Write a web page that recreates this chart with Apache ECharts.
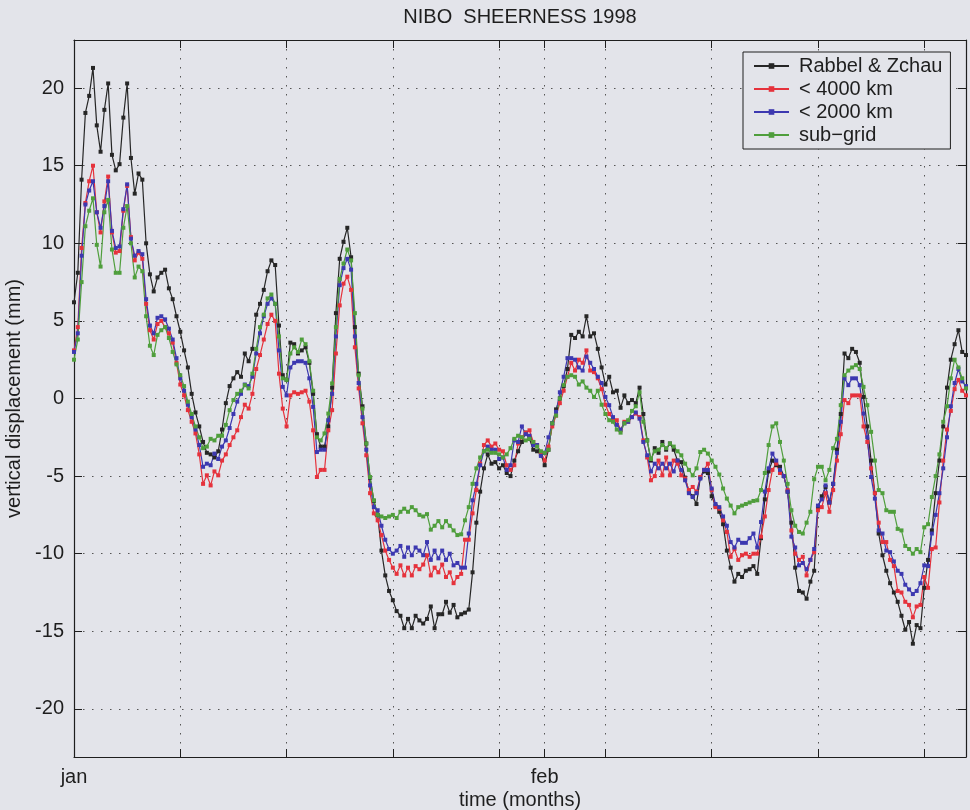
<!DOCTYPE html>
<html><head><meta charset="utf-8">
<script src="https://cdn.jsdelivr.net/npm/echarts@6/dist/echarts.min.js"></script>
<style>html,body{margin:0;padding:0;background:#e3e4ea;}#c{width:970px;height:810px;}</style>
</head><body><div id="c"></div>
<script>
// ---- data (6-hourly samples starting 1 Jan 1998) ----
const titleText = 'NIBO  SHEERNESS 1998';
const seriesNames = ['Rabbel & Zchau', '< 4000 km', '< 2000 km', 'sub\u2212grid'];
const stepDays = 0.25;
const monthLabels = ['jan', 'feb'];
const monthDays = [0, 31];
const yTickStep = 5;

const rabbel = [6.2,8.1,14.1,18.4,19.5,21.3,17.6,15.9,18.6,20.3,15.7,14.7,15.1,18.1,20.3,15.5,13.2,14.5,14.1,10.0,
8.0,6.9,7.8,8.1,8.3,7.1,6.4,5.3,4.3,3.1,2.0,0.3,-0.9,-1.8,-2.8,-3.5,-3.6,-3.8,-3.4,-2.0,
-0.3,0.8,1.3,1.7,1.4,2.9,2.4,3.2,5.4,6.1,7.0,8.2,8.9,8.6,4.7,1.5,1.2,3.6,3.5,2.9,
3.1,3.3,2.3,0.3,-2.3,-3.1,-3.1,-1.8,0.7,5.5,9.0,10.1,11.0,9.1,4.6,1.6,-0.5,-2.9,-5.1,-6.6,
-7.5,-9.8,-11.4,-12.4,-13.0,-13.7,-14.0,-14.8,-14.2,-14.8,-14.0,-14.3,-14.5,-14.2,-13.4,-14.8,-13.9,-13.9,-13.1,-13.8,
-13.3,-14.1,-13.9,-13.8,-13.6,-11.2,-8.0,-6.0,-4.5,-3.6,-4.2,-4.1,-4.5,-4.3,-4.8,-5.0,-4.0,-3.4,-2.8,-2.2,
-2.6,-3.3,-3.4,-3.6,-4.3,-3.3,-1.6,-0.7,0.0,0.8,1.9,4.1,3.9,4.3,4.0,5.3,4.0,4.2,3.2,2.0,
0.9,1.4,0.4,0.5,-0.6,0.2,-0.3,-0.1,-0.3,0.7,-1.0,-2.7,-4.0,-3.2,-3.5,-2.8,-3.3,-2.9,-3.3,-4.0,
-4.1,-5.1,-6.0,-6.3,-6.8,-5.1,-4.7,-4.8,-6.3,-6.9,-7.3,-8.1,-9.8,-10.9,-11.8,-11.3,-11.5,-11.1,-11.0,-10.8,
-11.3,-9.0,-6.5,-4.7,-4.0,-4.3,-4.4,-5.0,-6.0,-8.0,-10.9,-12.4,-12.5,-12.9,-11.8,-11.1,-7.0,-6.3,-5.7,-6.7,
-5.5,-3.3,-1.0,2.9,2.6,3.2,3.0,2.3,0.1,-1.8,-4.0,-6.1,-8.7,-10.1,-11.1,-11.9,-12.5,-13.1,-14.0,-14.9,
-14.4,-15.8,-14.6,-14.8,-12.2,-10.4,-8.5,-6.1,-4.0,-1.8,0.7,2.5,3.5,4.4,3.0,2.8];

const lt4000 = [3.1,4.6,9.7,12.6,14.0,15.0,12.0,10.7,12.7,14.3,10.7,9.4,9.5,12.1,13.7,10.4,8.9,9.4,9.0,6.1,
4.4,3.8,4.8,5.0,4.6,4.2,3.6,2.3,0.9,0.2,-0.75,-1.5,-2.25,-3.6,-5.5,-4.95,-5.6,-4.7,-4.95,-4.0,
-3.6,-3.0,-2.5,-2.05,-1.2,-0.4,-0.65,0.3,1.9,2.8,3.8,4.8,5.4,5.0,1.6,-0.65,-1.8,0.2,0.4,0.3,
0.4,0.5,-0.2,-2.05,-5.06,-4.6,-4.6,-2.05,-0.75,2.9,6.0,7.4,7.85,7.0,3.3,0.65,-1.6,-3.66,-6.1,-7.4,
-7.85,-8.8,-9.8,-10.4,-10.9,-11.3,-10.75,-11.4,-10.9,-11.4,-10.8,-11.0,-10.7,-10.1,-11.4,-10.9,-11.2,-10.7,-11.5,-11.2,
-11.9,-11.5,-11.3,-9.1,-9.1,-7.4,-5.9,-4.2,-3.0,-2.7,-3.1,-2.9,-3.3,-3.4,-4.3,-4.6,-4.3,-2.9,-2.5,-2.2,
-2.05,-2.8,-3.0,-3.45,-4.0,-3.1,-1.8,-1.1,-0.3,0.5,1.4,2.3,1.8,2.5,2.3,3.1,1.8,1.7,1.3,0.6,
-0.4,-1.0,-1.3,-1.4,-2.05,-1.5,-1.5,-1.2,-0.97,-1.2,-2.7,-3.8,-5.27,-5.0,-4.0,-4.95,-3.8,-4.95,-4.0,-4.2,
-4.95,-5.16,-5.9,-5.7,-6.0,-5.06,-4.6,-4.2,-5.9,-7.0,-7.1,-7.85,-8.6,-10.2,-9.7,-10.4,-10.1,-10.0,-10.2,-10.0,
-10.0,-8.9,-7.6,-5.9,-4.6,-4.2,-4.8,-5.0,-5.9,-8.5,-10.0,-10.4,-10.2,-11.4,-10.4,-9.9,-7.2,-7.0,-6.1,-7.3,
-5.9,-4.0,-2.3,-0.1,-0.3,0.2,0.2,0.2,-1.8,-2.8,-4.5,-6.1,-8.0,-9.25,-9.25,-10.4,-10.8,-12.4,-12.5,-13.1,
-13.3,-14.1,-13.4,-13.3,-11.5,-12.2,-9.7,-9.6,-6.7,-4.0,-2.0,-0.8,0.6,1.2,0.5,0.2];

const lt2000 = [3.0,4.2,9.2,12.5,13.4,14.0,12.0,11.0,12.4,14.0,10.8,9.7,9.8,12.2,13.8,10.3,9.2,9.5,9.3,6.4,
4.7,4.2,5.2,5.3,5.1,4.5,3.8,2.6,1.3,0.5,-0.4,-1.2,-2.0,-3.0,-4.4,-4.2,-4.3,-3.55,-3.9,-3.1,
-2.7,-1.9,-1.0,-0.2,0.3,0.9,0.8,1.4,2.9,4.2,5.3,6.1,6.45,6.1,3.1,0.75,0.2,2.0,2.3,2.4,
2.4,2.3,1.3,-0.54,-3.45,-3.3,-3.3,-1.4,0.3,4.0,7.3,8.4,9.0,8.3,4.0,1.0,-1.2,-3.3,-5.6,-7.0,
-7.2,-8.2,-9.1,-9.7,-10.0,-9.8,-9.5,-10.2,-9.6,-10.1,-9.6,-9.8,-10.1,-9.25,-10.4,-9.8,-10.3,-9.8,-10.4,-10.0,
-10.75,-10.6,-10.9,-10.9,-8.7,-6.56,-5.5,-4.3,-3.4,-3.1,-3.3,-3.3,-3.9,-3.8,-4.6,-4.3,-2.7,-2.8,-1.8,-2.3,
-2.4,-3.0,-3.0,-3.7,-3.5,-2.5,-1.6,-0.86,0.4,1.4,2.6,2.6,2.5,2.0,1.8,2.7,2.3,1.9,1.4,1.0,
0.1,-0.43,-1.2,-1.7,-2.0,-1.6,-1.5,-1.2,-0.9,-1.3,-2.8,-3.66,-4.7,-4.2,-4.5,-4.2,-4.5,-4.2,-4.7,-4.0,
-4.6,-5.27,-6.1,-6.35,-6.1,-5.16,-4.6,-4.6,-5.8,-6.8,-7.0,-7.6,-8.2,-9.25,-9.6,-9.1,-9.3,-9.3,-9.0,-8.7,
-9.6,-7.96,-6.0,-4.5,-3.55,-4.0,-4.6,-5.0,-6.0,-8.9,-9.6,-10.75,-10.6,-11.0,-10.4,-9.7,-6.9,-6.5,-5.6,-6.7,
-5.5,-3.5,-1.5,1.3,0.86,1.3,1.3,0.86,-0.97,-2.5,-5.06,-6.45,-8.5,-8.7,-9.8,-9.9,-10.5,-11.1,-11.3,-12.0,
-12.3,-12.6,-12.4,-11.9,-10.75,-10.8,-8.7,-7.5,-6.1,-4.5,-2.5,-0.5,1.0,1.9,1.1,0.8];

const subGrid = [2.5,3.8,7.5,11.1,12.1,12.9,9.9,8.5,12.0,12.8,9.6,8.1,8.1,11.0,12.4,10.0,7.8,8.5,8.2,5.3,
3.4,2.8,4.1,4.4,4.6,3.9,3.0,2.2,1.5,0.8,-0.2,-1.0,-1.8,-2.5,-3.2,-3.1,-2.6,-2.7,-2.4,-2.4,
-1.7,-0.75,-0.1,0.3,0.5,0.86,0.65,1.6,3.2,4.6,5.4,6.45,6.7,6.1,4.0,1.3,1.2,2.9,3.3,3.0,
3.8,3.5,2.4,0.5,-2.5,-2.7,-2.25,-0.97,0.97,4.6,7.7,8.7,9.6,8.9,5.5,1.5,-0.65,-2.9,-5.06,-6.56,
-7.5,-7.6,-7.7,-7.6,-7.5,-7.7,-7.3,-7.1,-7.3,-7.0,-7.2,-7.5,-7.6,-7.45,-8.45,-8.2,-7.9,-8.3,-7.9,-8.2,
-8.5,-8.8,-8.75,-7.85,-7.0,-5.5,-4.5,-3.8,-3.4,-3.3,-3.5,-3.5,-3.6,-3.8,-3.6,-3.2,-2.6,-2.4,-2.5,-2.7,
-2.6,-2.8,-3.1,-3.4,-3.5,-3.3,-1.6,-1.1,0.0,0.86,1.4,1.5,1.4,0.9,1.1,0.7,0.5,0.1,0.5,-0.4,
-1.0,-1.4,-1.5,-2.0,-2.2,-1.6,-1.4,-0.8,-0.5,0.4,-1.5,-2.7,-3.9,-3.4,-3.3,-3.0,-3.2,-2.9,-3.1,-3.4,
-3.66,-4.2,-4.6,-4.95,-4.5,-3.45,-3.3,-3.55,-4.0,-4.4,-4.9,-5.8,-6.45,-6.9,-7.4,-7.0,-6.9,-6.8,-6.7,-6.6,
-6.56,-5.9,-4.8,-3.0,-1.8,-1.6,-2.8,-4.0,-5.5,-7.2,-8.2,-8.6,-8.7,-8.0,-7.3,-5.2,-4.4,-4.4,-5.27,-4.6,
-3.2,-2.6,-0.43,1.5,1.8,2.0,2.15,1.9,0.75,-0.43,-2.15,-4.0,-5.9,-6.1,-7.2,-7.3,-7.3,-8.4,-8.5,-9.5,
-9.7,-10.0,-9.7,-9.9,-8.3,-8.1,-6.35,-5.0,-3.6,-1.5,-0.5,1.3,2.5,2.0,1.3,0.65];

// ---- chart ----
const seriesValues = [rabbel, lt4000, lt2000, subGrid];
const seriesColors = ['#262626', '#e5323c', '#3c38b0', '#4f9e3c'];
const toPairs = arr => arr.map((v, i) => [i * stepDays, v]);
const xMax = (rabbel.length - 1) * stepDays;

const FONT = 'Liberation Sans, Arial, Helvetica, sans-serif';
const INK = '#1e1e1e';
const dotted = { color: '#555', width: 1, type: [1.5, 7.5] };
const tickIn = { show: true, inside: true, length: 8, lineStyle: { color: INK, width: 1 } };
const axLine = { show: true, onZero: false, lineStyle: { color: INK, width: 1.2 } };
const noLine = { show: false, onZero: false };

const chart = echarts.init(document.getElementById('c'), null, { renderer: 'canvas' });
chart.setOption({
  backgroundColor: '#e3e4ea',
  animation: false,
  textStyle: { fontFamily: FONT },
  title: {
    text: titleText, left: 520, top: 7, textAlign: 'center', padding: 0,
    textStyle: { fontSize: 20, fontWeight: 'normal', color: INK, fontFamily: FONT }
  },
  grid: { left: 74, right: 4, top: 40, bottom: 53, containLabel: false, outerBoundsMode: 'none' },
  legend: {
    data: seriesNames, orient: 'vertical', left: 743, top: 52,
    itemWidth: 35, itemHeight: 7, itemGap: 3, padding: [4, 8, 4, 10],
    backgroundColor: '#e3e4ea', borderColor: INK, borderWidth: 1, borderRadius: 0,
    textStyle: { fontSize: 20, color: INK, fontFamily: FONT, lineHeight: 20, padding: [0, 0, 0, 5] },
    selectedMode: false
  },
  xAxis: [
    { type: 'value', min: 0, max: xMax, interval: 7, position: 'bottom',
      axisLine: axLine, axisTick: tickIn, axisLabel: { show: false },
      splitLine: { show: true, lineStyle: dotted },
      name: 'time (months)', nameLocation: 'middle', nameGap: 33,
      nameTextStyle: { fontSize: 20, color: INK, fontFamily: FONT } },
    { type: 'value', min: 0, max: xMax, interval: 7, position: 'top',
      axisLine: axLine, axisTick: tickIn, axisLabel: { show: false }, splitLine: { show: false } },
    { type: 'value', min: 0, max: xMax, interval: monthDays[1], position: 'bottom',
      axisLine: noLine, axisTick: tickIn,
      axisLabel: { show: true, margin: 10, fontSize: 20, color: INK, fontFamily: FONT,
        showMinLabel: true, showMaxLabel: false,
        formatter: v => { const k = monthDays.indexOf(v); return k >= 0 ? monthLabels[k] : ''; } },
      splitLine: { show: true, lineStyle: dotted } },
    { type: 'value', min: 0, max: xMax, interval: monthDays[1], position: 'top',
      axisLine: noLine, axisTick: tickIn, axisLabel: { show: false }, splitLine: { show: false } }
  ],
  yAxis: [
    { type: 'value', min: -23.1, max: 23.1, splitNumber: 9, minInterval: yTickStep, maxInterval: yTickStep,
      position: 'left', axisLine: axLine, axisTick: tickIn,
      axisLabel: { margin: 10, fontSize: 20, color: INK, fontFamily: FONT,
        formatter: v => (Math.abs(v % yTickStep) < 1e-6 ? String(v) : '') },
      splitLine: { show: true, lineStyle: dotted },
      name: 'vertical displacement (mm)', nameLocation: 'middle', nameGap: 42,
      nameTextStyle: { fontSize: 20, color: INK, fontFamily: FONT } },
    { type: 'value', min: -23.1, max: 23.1, splitNumber: 9, minInterval: yTickStep, maxInterval: yTickStep,
      position: 'right', axisLine: axLine, axisTick: tickIn, axisLabel: { show: false }, splitLine: { show: false } }
  ],
  series: seriesNames.map((name, k) => ({
    name, type: 'line', xAxisIndex: 0, yAxisIndex: 0,
    data: toPairs(seriesValues[k]),
    symbol: 'rect', symbolSize: 4, showSymbol: true,
    lineStyle: { color: seriesColors[k], width: 1.2 },
    itemStyle: { color: seriesColors[k] },
    emphasis: { disabled: true }, silent: true
  }))
});
</script></body></html>
